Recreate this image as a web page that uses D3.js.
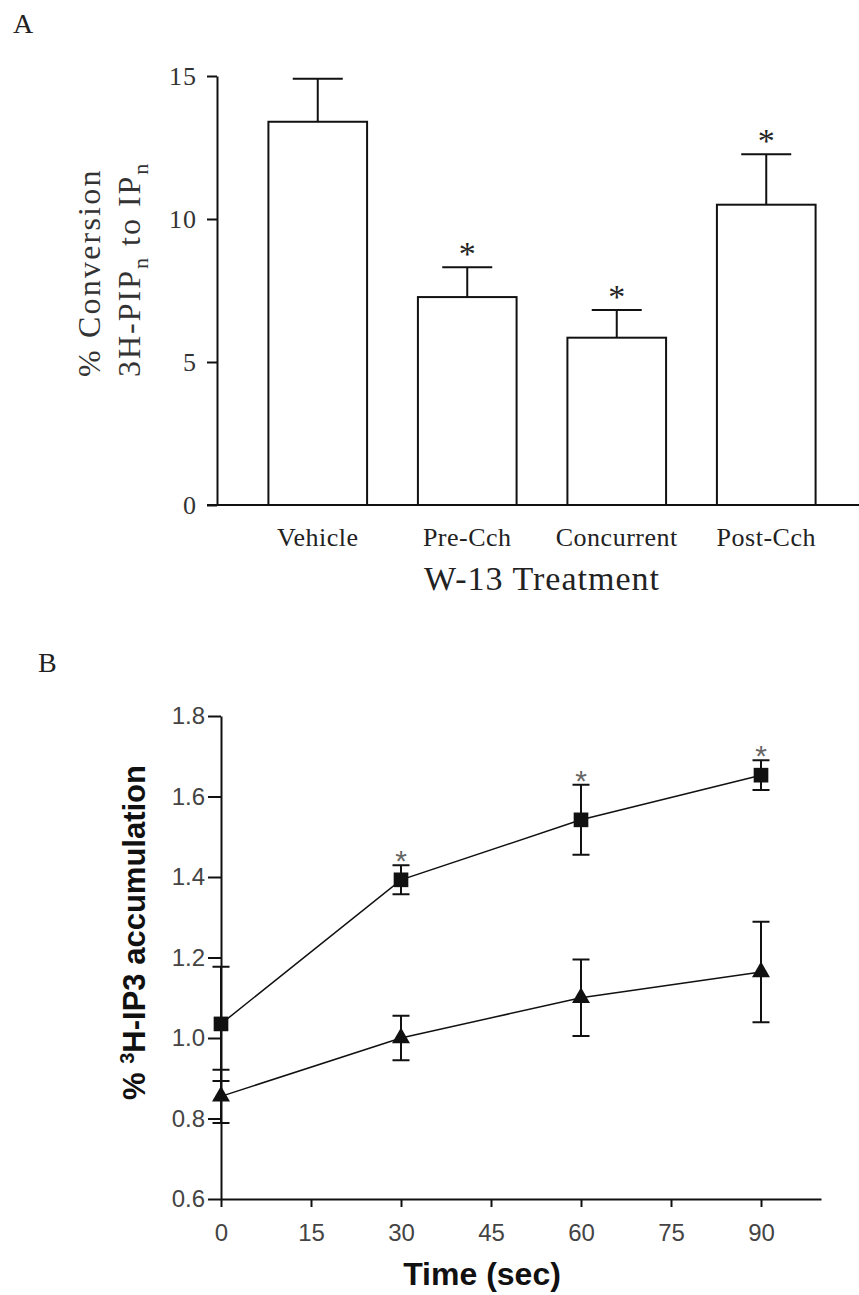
<!DOCTYPE html>
<html>
<head>
<meta charset="utf-8">
<script src="https://cdn.jsdelivr.net/npm/d3@7"></script>
<style>
  body { margin: 0; background: #fff; }
  .serif { font-family: "Liberation Serif", "Times New Roman", serif; }
  .sans { font-family: "Liberation Sans", Arial, sans-serif; }
</style>
</head>
<body>
<div id="chart"></div>
<script>
// panel A data
var treatments = ["Vehicle", "Pre-Cch", "Concurrent", "Post-Cch"];
var conversion = [13.4, 7.27, 5.85, 10.5];
var conversionErr = [1.5, 1.04, 0.97, 1.76];
var conversionSig = [false, true, true, true];
var yTicksA = [0, 5, 10, 15];

// panel B data
var times = [0, 30, 60, 90];
var squareMean = [1.035, 1.393, 1.542, 1.653];
var squareErr = [0.142, 0.036, 0.087, 0.037];
var squareSig = [false, true, true, true];
var triangleMean = [0.855, 1.0, 1.10, 1.164];
var triangleErr = [0.066, 0.055, 0.095, 0.125];
var xTicksB = [0, 15, 30, 45, 60, 75, 90];
var yTicksB = [0.6, 0.8, 1.0, 1.2, 1.4, 1.6, 1.8];

var svg = d3.select("#chart").append("svg")
    .attr("width", 859)
    .attr("height", 1295);

svg.append("rect").attr("width", 859).attr("height", 1295).attr("fill", "#fff");

// ---------- Panel A ----------
var xA = d3.scaleBand().domain(treatments).range([243, 841])
    .paddingInner(0.34).paddingOuter(0.17);
var yA = d3.scaleLinear().domain([0, 15]).range([505, 76]);

svg.append("text").attr("class", "serif")
    .attr("x", 13).attr("y", 33)
    .attr("font-size", 28).attr("fill", "#222")
    .text("A");

var bars = svg.append("g");
bars.selectAll("rect")
    .data(treatments)
    .enter().append("rect")
    .attr("x", function(d) { return xA(d); })
    .attr("y", function(d, i) { return yA(conversion[i]); })
    .attr("width", xA.bandwidth())
    .attr("height", function(d, i) { return yA(0) - yA(conversion[i]); })
    .attr("fill", "#fff")
    .attr("stroke", "#111")
    .attr("stroke-width", 2);

// upper error bars
bars.selectAll("path.err")
    .data(treatments)
    .enter().append("path")
    .attr("class", "err")
    .attr("d", function(d, i) {
        var cx = xA(d) + xA.bandwidth() / 2;
        var top = yA(conversion[i] + conversionErr[i]);
        return "M" + cx + "," + yA(conversion[i]) + "V" + top +
               "M" + (cx - 25) + "," + top + "H" + (cx + 25);
    })
    .attr("fill", "none")
    .attr("stroke", "#111")
    .attr("stroke-width", 2);

bars.selectAll("text.star")
    .data(treatments.filter(function(d, i) { return conversionSig[i]; }))
    .enter().append("text")
    .attr("class", "serif star")
    .attr("x", function(d) { return xA(d) + xA.bandwidth() / 2; })
    .attr("y", function(d) {
        var i = treatments.indexOf(d);
        return yA(conversion[i] + conversionErr[i]) - 2;
    })
    .attr("text-anchor", "middle")
    .attr("font-size", 34)
    .attr("fill", "#222")
    .text("*");

var yAxisA = svg.append("g")
    .attr("transform", "translate(217,0)")
    .call(d3.axisLeft(yA).tickValues(yTicksA).tickSize(10).tickPadding(10).tickSizeOuter(0));
yAxisA.selectAll("text").attr("class", "serif").attr("font-size", 26)
    .attr("fill", "#333").attr("letter-spacing", 1);

var xAxisA = svg.append("g")
    .attr("transform", "translate(0,505)")
    .call(d3.axisBottom(xA).tickSize(0).tickPadding(23));
xAxisA.select(".domain").attr("d", "M207,0H859");
xAxisA.selectAll("text").attr("class", "serif").attr("font-size", 26)
    .attr("fill", "#222").attr("letter-spacing", 0.5);

[yAxisA, xAxisA].forEach(function(g) {
    g.attr("font-family", null);
    g.selectAll(".domain, .tick line").attr("stroke", "#111").attr("stroke-width", 2);
});

svg.append("text").attr("class", "serif")
    .attr("x", 542).attr("y", 590)
    .attr("text-anchor", "middle")
    .attr("font-size", 34).attr("letter-spacing", 1).attr("fill", "#222")
    .text("W-13 Treatment");

var labelA1 = svg.append("text").attr("class", "serif")
    .attr("transform", "translate(100,377) rotate(-90)")
    .attr("font-size", 32).attr("letter-spacing", 2.2).attr("fill", "#333")
    .text("% Conversion");

var labelA2 = svg.append("text").attr("class", "serif")
    .attr("transform", "translate(140,377) rotate(-90)")
    .attr("font-size", 32).attr("letter-spacing", 2).attr("fill", "#333");
labelA2.append("tspan").text("3H-PIP");
labelA2.append("tspan").attr("dy", 8).attr("font-size", 22).text("n");
labelA2.append("tspan").attr("dy", -8).text(" to IP");
labelA2.append("tspan").attr("dy", 8).attr("font-size", 22).text("n");

// ---------- Panel B ----------
var xB = d3.scaleLinear().domain([0, 100]).range([221, 821]);
var yB = d3.scaleLinear().domain([0.6, 1.8]).range([1199, 716]);

svg.append("text").attr("class", "serif")
    .attr("x", 38).attr("y", 672)
    .attr("font-size", 28).attr("fill", "#222")
    .text("B");

var yAxisB = svg.append("g")
    .attr("transform", "translate(221,0)")
    .call(d3.axisLeft(yB).tickValues(yTicksB).tickFormat(d3.format(".1f"))
        .tickSize(13).tickPadding(3).tickSizeOuter(0));
var xAxisB = svg.append("g")
    .attr("transform", "translate(0,1199)")
    .call(d3.axisBottom(xB).tickValues(xTicksB).tickSize(8).tickPadding(17).tickSizeOuter(0));

[yAxisB, xAxisB].forEach(function(g) {
    g.attr("font-family", null);
    g.selectAll(".domain, .tick line").attr("stroke", "#111").attr("stroke-width", 2);
    g.selectAll("text").attr("class", "sans").attr("font-size", 24).attr("fill", "#444");
});

var series = [
    { mean: squareMean, err: squareErr, sym: d3.symbolSquare, size: 215 },
    { mean: triangleMean, err: triangleErr, sym: d3.symbolTriangle, size: 140 }
];

var line = d3.line()
    .x(function(d) { return xB(d[0]); })
    .y(function(d) { return yB(d[1]); });

series.forEach(function(s) {
    var pts = times.map(function(t, i) { return [t, s.mean[i], s.err[i]]; });
    var g = svg.append("g");

    g.append("path")
        .attr("d", line(pts))
        .attr("fill", "none")
        .attr("stroke", "#111")
        .attr("stroke-width", 1.5);

    g.selectAll("path.eb")
        .data(pts)
        .enter().append("path")
        .attr("class", "eb")
        .attr("d", function(d) {
            var cx = xB(d[0]), hi = yB(d[1] + d[2]), lo = yB(d[1] - d[2]);
            return "M" + cx + "," + hi + "V" + lo +
                   "M" + (cx - 8.5) + "," + hi + "H" + (cx + 8.5) +
                   "M" + (cx - 8.5) + "," + lo + "H" + (cx + 8.5);
        })
        .attr("fill", "none")
        .attr("stroke", "#111")
        .attr("stroke-width", 2);

    g.selectAll("path.mk")
        .data(pts)
        .enter().append("path")
        .attr("class", "mk")
        .attr("transform", function(d) { return "translate(" + xB(d[0]) + "," + yB(d[1]) + ")"; })
        .attr("d", d3.symbol().type(s.sym).size(s.size))
        .attr("fill", "#111");
});

svg.append("g").selectAll("text")
    .data(times.filter(function(t, i) { return squareSig[i]; }))
    .enter().append("text")
    .attr("class", "sans")
    .attr("x", function(d) { return xB(d); })
    .attr("y", function(d) {
        var i = times.indexOf(d);
        return yB(squareMean[i] + squareErr[i]) + 6;
    })
    .attr("text-anchor", "middle")
    .attr("font-size", 30)
    .attr("fill", "#666")
    .text("*");

svg.append("text").attr("class", "sans")
    .attr("x", 482).attr("y", 1285)
    .attr("text-anchor", "middle")
    .attr("font-size", 32).attr("font-weight", "bold").attr("fill", "#111")
    .text("Time (sec)");

var labelB = svg.append("text").attr("class", "sans")
    .attr("transform", "translate(145,765) rotate(-90)")
    .attr("text-anchor", "end")
    .attr("font-size", 31).attr("font-weight", "bold").attr("fill", "#111");
labelB.append("tspan").text("% ");
labelB.append("tspan").attr("dy", -11).attr("font-size", 20).text("3");
labelB.append("tspan").attr("dy", 11).text("H-IP3 accumulation");
</script>
</body>
</html>
